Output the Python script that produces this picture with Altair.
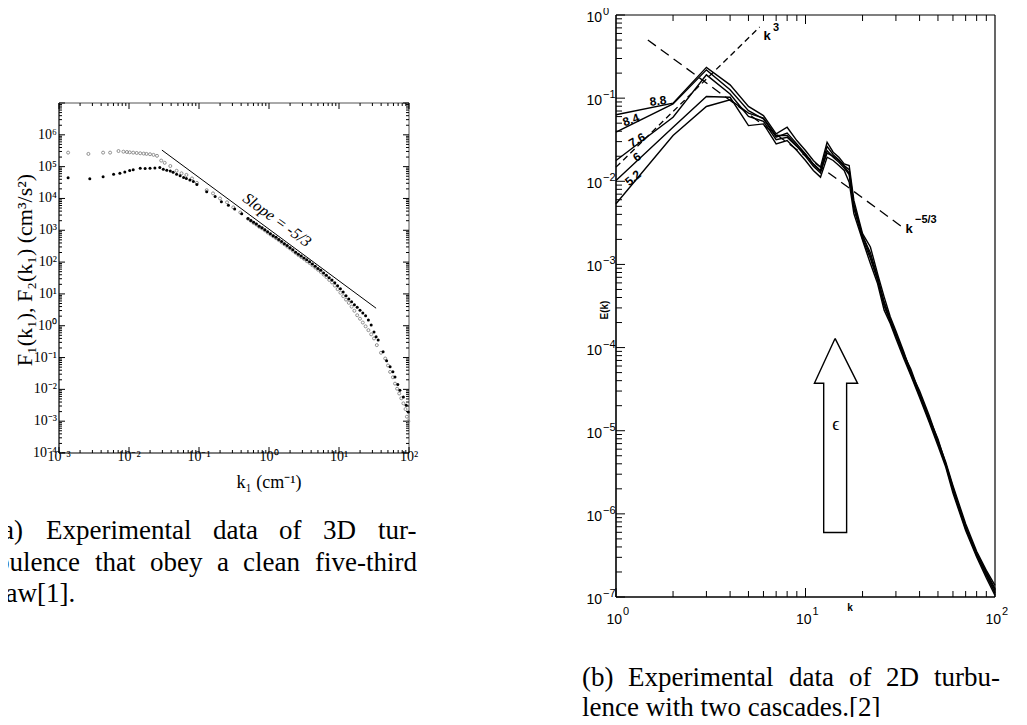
import altair as alt
import pandas as pd

# ---------------- panel (a): 3D turbulence spectra (log10 values) ----------------
open_logk = [-2.87, -2.58, -2.37, -2.27, -2.15, -2.08, -2.03, -1.99, -1.94, -1.89, -1.84, -1.79, -1.75,
             -1.70, -1.65, -1.60, -1.54, -1.49, -1.41, -1.32, -1.25, -1.18, -1.10, -1.03, -0.89, -0.80,
             -0.70, -0.60, -0.51, -0.41,
             -0.30, -0.26, -0.22, -0.18, -0.14, -0.10, -0.06, -0.02, 0.02, 0.06, 0.10, 0.14, 0.18, 0.22,
             0.26, 0.30, 0.34, 0.38, 0.42, 0.46, 0.50, 0.54, 0.58, 0.62, 0.66, 0.70, 0.74, 0.78, 0.82,
             0.86, 0.90, 0.94, 0.98, 1.02, 1.06, 1.10, 1.14, 1.18, 1.22, 1.26, 1.30, 1.34, 1.38, 1.42,
             1.46, 1.50,
             1.54, 1.60, 1.66, 1.70, 1.73, 1.77, 1.80, 1.83, 1.86, 1.89, 1.92, 1.95, 1.97, 1.99]
open_logF = [5.44, 5.40, 5.44, 5.44, 5.49, 5.47, 5.46, 5.45, 5.44, 5.43, 5.42, 5.41, 5.40,
             5.39, 5.37, 5.34, 5.19, 5.12, 5.02, 4.87, 4.79, 4.74, 4.63, 4.49, 4.26, 4.16,
             4.00, 3.88, 3.72, 3.56,
             3.36, 3.30, 3.23, 3.18, 3.11, 3.06, 3.00, 2.93, 2.87, 2.81, 2.75, 2.69, 2.62, 2.56,
             2.49, 2.43, 2.36, 2.29, 2.22, 2.16, 2.10, 2.03, 1.97, 1.90, 1.83, 1.76, 1.69, 1.61, 1.53,
             1.44, 1.36, 1.26, 1.15, 1.04, 0.93, 0.82, 0.72, 0.60, 0.47, 0.33, 0.22, 0.10, -0.02, -0.14,
             -0.27, -0.40,
             -0.61, -0.85, -1.03, -1.25, -1.45, -1.62, -1.82, -1.98, -2.13, -2.28, -2.44, -2.62, -2.86, -3.00]

filled_logk = [-2.87, -2.56, -2.37, -2.22, -2.13, -2.06, -1.99, -1.94, -1.84, -1.77, -1.70, -1.63, -1.56,
               -1.51, -1.46, -1.41, -1.37, -1.32, -1.27, -1.22, -1.18, -1.13, -1.08, -1.03, -0.89, -0.77,
               -0.68, -0.58, -0.49, -0.39,
               -0.30, -0.26, -0.22, -0.18, -0.14, -0.10, -0.06, -0.02, 0.02, 0.06, 0.10, 0.14, 0.18, 0.22,
               0.26, 0.30, 0.34, 0.38, 0.42, 0.46, 0.50, 0.54, 0.58, 0.62, 0.66, 0.70, 0.74, 0.78, 0.82,
               0.86, 0.90, 0.94, 0.98, 1.02, 1.06, 1.10, 1.14, 1.18, 1.22, 1.26, 1.30, 1.34, 1.38, 1.42,
               1.46, 1.50,
               1.53, 1.56, 1.63, 1.68, 1.73, 1.77, 1.80, 1.84, 1.87, 1.92, 1.96, 1.99]
filled_logF = [4.65, 4.62, 4.68, 4.76, 4.79, 4.83, 4.88, 4.90, 4.95, 4.94, 4.95, 4.96, 4.97,
               4.92, 4.89, 4.86, 4.82, 4.76, 4.71, 4.66, 4.63, 4.58, 4.53, 4.44, 4.21, 4.06,
               3.90, 3.79, 3.67, 3.52,
               3.37, 3.31, 3.25, 3.20, 3.13, 3.08, 3.02, 2.95, 2.89, 2.83, 2.78, 2.71, 2.65, 2.58,
               2.52, 2.45, 2.39, 2.31, 2.25, 2.19, 2.13, 2.07, 2.01, 1.94, 1.87, 1.80, 1.74, 1.66, 1.59,
               1.51, 1.44, 1.35, 1.26, 1.16, 1.06, 0.94, 0.84, 0.75, 0.66, 0.58, 0.49, 0.40, 0.31, 0.18,
               0.02, -0.20,
               -0.35, -0.45, -0.82, -1.10, -1.29, -1.45, -1.61, -1.85, -2.03, -2.24, -2.50, -2.71]

slope_logk = [-1.53, 1.53]
slope_logF = [5.52, 0.55]

a_xticks = [0.001, 0.01, 0.1, 1, 10, 100]
a_xlabels = ["10⁻³", "10⁻²", "10⁻¹", "10⁰", "10¹", "10²"]
a_yticks = [1e-4, 1e-3, 1e-2, 1e-1, 1, 10, 100, 1e3, 1e4, 1e5, 1e6]
a_ylabels = ["10⁻⁴", "10⁻³", "10⁻²", "10⁻¹", "10⁰", "10¹", "10²", "10³", "10⁴", "10⁵", "10⁶"]

# ---------------- panel (b): 2D turbulence spectra (log10 E) ----------------
k_b = [1, 2, 3, 4, 5, 6, 7, 8, 9, 10, 11, 12, 13, 14, 15, 16, 17, 18, 20, 22, 24, 26, 28, 30, 33, 36,
       40, 45, 50, 55, 60, 70, 80, 90, 100]
run_88 = [-1.20, -1.06, -0.63, -0.84, -1.10, -1.21, -1.43, -1.35, -1.51, -1.63, -1.75, -1.83, -1.53, -1.65,
          -1.71, -1.79, -1.81, -2.23, -2.63, -2.79, -3.11, -3.39, -3.63, -3.80, -4.05, -4.30, -4.52, -4.82,
          -5.12, -5.38, -5.66, -6.12, -6.45, -6.68, -6.86]
run_84 = [-1.41, -1.07, -0.66, -0.90, -1.15, -1.25, -1.47, -1.42, -1.55, -1.67, -1.79, -1.87, -1.58, -1.68,
          -1.74, -1.81, -1.86, -2.28, -2.66, -2.86, -3.15, -3.45, -3.66, -3.83, -4.08, -4.26, -4.55, -4.85,
          -5.10, -5.40, -5.70, -6.15, -6.48, -6.70, -6.90]
run_76 = [-1.75, -1.23, -0.72, -0.95, -1.22, -1.28, -1.50, -1.47, -1.58, -1.70, -1.82, -1.90, -1.63, -1.71,
          -1.77, -1.84, -1.92, -2.33, -2.69, -2.93, -3.19, -3.50, -3.69, -3.86, -4.10, -4.32, -4.58, -4.88,
          -5.15, -5.42, -5.72, -6.18, -6.50, -6.74, -6.95]
run_60 = [-1.99, -1.35, -0.98, -0.99, -1.33, -1.31, -1.55, -1.51, -1.63, -1.75, -1.87, -1.95, -1.71, -1.75,
          -1.81, -1.87, -2.01, -2.39, -2.71, -2.99, -3.23, -3.55, -3.71, -3.89, -4.13, -4.34, -4.60, -4.90,
          -5.18, -5.44, -5.75, -6.20, -6.52, -6.77, -6.98]
run_52 = [-2.27, -1.45, -1.10, -1.02, -1.18, -1.24, -1.45, -1.45, -1.57, -1.68, -1.80, -1.88, -1.66, -1.70,
          -1.75, -1.82, -1.90, -2.30, -2.65, -2.90, -3.17, -3.47, -3.67, -3.84, -4.07, -4.29, -4.56, -4.86,
          -5.14, -5.40, -5.68, -6.16, -6.47, -6.72, -6.92]
run_names = ["8.8", "8.4", "7.6", "6", "5.2"]

k3_logk = [0.0, 0.758]
k3_logE = [-1.83, -0.145]
k53_logk = [0.168, 1.51]
k53_logE = [-0.30, -2.55]

arrow_logk = [1.156, 1.275, 1.217, 1.217, 1.096, 1.096, 1.047, 1.156]
arrow_logE = [-3.89, -4.43, -4.43, -6.225, -6.225, -4.43, -4.43, -3.89]

b_xticks = [1, 10, 100]
b_xexp = ["0", "1", "2"]
b_yticks = [1e-7, 1e-6, 1e-5, 1e-4, 1e-3, 1e-2, 1e-1, 1]
b_yexp = ["−7", "−6", "−5", "−4", "−3", "−2", "−1", "0"]

# ---------------- helpers ----------------
ONE = pd.DataFrame({"_": [0]})
SERIF = "Liberation Serif"
SANS = "Liberation Sans"


def p10(vals):
    return [10 ** v for v in vals]


def txt(s, x, y, **kw):
    return alt.Chart(ONE).mark_text(text=s, **kw).encode(x=alt.value(x), y=alt.value(y))


def frame(xs, ys, xd, yd, sides, width=1.0, color="black"):
    rows = []
    if "b" in sides:
        rows.append(dict(x=xd[0], x2=xd[1], y=yd[0], y2=yd[0]))
    if "t" in sides:
        rows.append(dict(x=xd[0], x2=xd[1], y=yd[1], y2=yd[1]))
    if "l" in sides:
        rows.append(dict(x=xd[0], x2=xd[0], y=yd[0], y2=yd[1]))
    if "r" in sides:
        rows.append(dict(x=xd[1], x2=xd[1], y=yd[0], y2=yd[1]))
    return alt.Chart(pd.DataFrame(rows)).mark_rule(color=color, strokeWidth=width).encode(
        x=alt.X("x:Q", scale=xs, axis=None), x2="x2:Q",
        y=alt.Y("y:Q", scale=ys, axis=None), y2="y2:Q")


def vticks(vals, edge, xs, ys, size, off):
    df = pd.DataFrame({"v": vals, "e": [edge] * len(vals)})
    return alt.Chart(df).mark_tick(orient="vertical", size=size, thickness=1, color="black",
                                   opacity=1, yOffset=off).encode(
        x=alt.X("v:Q", scale=xs, axis=None), y=alt.Y("e:Q", scale=ys, axis=None))


def hticks(vals, edge, xs, ys, size, off):
    df = pd.DataFrame({"v": vals, "e": [edge] * len(vals)})
    return alt.Chart(df).mark_tick(orient="horizontal", size=size, thickness=1, color="black",
                                   opacity=1, xOffset=off).encode(
        y=alt.Y("v:Q", scale=ys, axis=None), x=alt.X("e:Q", scale=xs, axis=None))


# ---------------- panel (a) ----------------
AX = alt.Scale(type="log", domain=[1e-3, 1e2], range=[51, 401], nice=False)
AY = alt.Scale(type="log", domain=[1e-4, 1e7], range=[445, 95], nice=False)

ax_minor = [m * 10.0 ** e for e in range(-3, 2) for m in range(2, 10)]
ay_major = [10.0 ** e for e in range(-4, 8)]
ay_minor = [m * 10.0 ** e for e in range(-4, 7) for m in range(2, 10)]

open_df = pd.DataFrame({"k": p10(open_logk), "F": p10(open_logF)})
filled_df = pd.DataFrame({"k": p10(filled_logk), "F": p10(filled_logF)})
slope_df = pd.DataFrame({"k": p10(slope_logk), "F": p10(slope_logF)})

a_open = alt.Chart(open_df).mark_point(shape="circle", filled=False, size=9, strokeWidth=0.8,
                                       color="#777777", opacity=1).encode(
    x=alt.X("k:Q", scale=AX, axis=None), y=alt.Y("F:Q", scale=AY, axis=None))
a_filled = alt.Chart(filled_df).mark_circle(size=9, color="black", opacity=1).encode(
    x=alt.X("k:Q", scale=AX, axis=None), y=alt.Y("F:Q", scale=AY, axis=None))
a_slope = alt.Chart(slope_df).mark_line(color="black", strokeWidth=1).encode(
    x=alt.X("k:Q", scale=AX, axis=None), y=alt.Y("F:Q", scale=AY, axis=None))

a_xlab = alt.Chart(pd.DataFrame({"v": a_xticks, "t": a_xlabels})).mark_text(
    font=SERIF, fontSize=14, baseline="alphabetic", align="center", color="black").encode(
    x=alt.X("v:Q", scale=AX, axis=None), y=alt.value(453), text="t:N")
a_ylab = alt.Chart(pd.DataFrame({"v": a_yticks, "t": a_ylabels})).mark_text(
    font=SERIF, fontSize=14, baseline="middle", align="right", color="black").encode(
    y=alt.Y("v:Q", scale=AY, axis=None), x=alt.value(49), text="t:N")

panel_a = alt.layer(
    frame(AX, AY, [1e-3, 1e2], [1e-4, 1e7], "bl", 1.2),
    frame(AX, AY, [1e-3, 1e2], [1e-4, 1e7], "tr", 1.0, "#555555"),
    vticks(a_xticks, 1e-4, AX, AY, 6, -3), vticks(ax_minor, 1e-4, AX, AY, 3, -1.5),
    vticks(a_xticks, 1e7, AX, AY, 6, 3), vticks(ax_minor, 1e7, AX, AY, 3, 1.5),
    hticks(ay_major, 1e-3, AX, AY, 6, 3), hticks(ay_minor, 1e-3, AX, AY, 3, 1.5),
    hticks(ay_major, 1e2, AX, AY, 6, -3), hticks(ay_minor, 1e2, AX, AY, 3, -1.5),
    a_open, a_filled, a_slope, a_xlab, a_ylab,
)

# ---------------- panel (b) ----------------
BX = alt.Scale(type="log", domain=[1, 100], range=[608, 987], nice=False)
BY = alt.Scale(type="log", domain=[1e-7, 1], range=[589, 7], nice=False)

bx_minor = [m * 10.0 ** e for e in range(0, 2) for m in range(2, 10)]
by_minor = [m * 10.0 ** e for e in range(-7, 0) for m in range(2, 10)]

runs = []
for name, vals in zip(run_names, [run_88, run_84, run_76, run_60, run_52]):
    for k, v in zip(k_b, vals):
        runs.append({"k": k, "E": 10 ** v, "run": name})
runs_df = pd.DataFrame(runs)

b_lines = alt.Chart(runs_df).mark_line(color="black", strokeWidth=1.4).encode(
    x=alt.X("k:Q", scale=BX, axis=None), y=alt.Y("E:Q", scale=BY, axis=None), detail="run:N")
b_k3 = alt.Chart(pd.DataFrame({"k": p10(k3_logk), "E": p10(k3_logE)})).mark_line(
    color="black", strokeWidth=1.3, strokeDash=[6, 4]).encode(
    x=alt.X("k:Q", scale=BX, axis=None), y=alt.Y("E:Q", scale=BY, axis=None))
b_k53 = alt.Chart(pd.DataFrame({"k": p10(k53_logk), "E": p10(k53_logE)})).mark_line(
    color="black", strokeWidth=1.3, strokeDash=[10, 6]).encode(
    x=alt.X("k:Q", scale=BX, axis=None), y=alt.Y("E:Q", scale=BY, axis=None))
b_arrow = alt.Chart(pd.DataFrame({"k": p10(arrow_logk), "E": p10(arrow_logE),
                                  "o": list(range(len(arrow_logk)))})).mark_line(
    color="black", strokeWidth=1.4).encode(
    x=alt.X("k:Q", scale=BX, axis=None), y=alt.Y("E:Q", scale=BY, axis=None), order="o:Q")

bx_df = pd.DataFrame({"v": b_xticks, "base": ["10"] * len(b_xticks), "e": b_xexp})
by_df = pd.DataFrame({"v": b_yticks, "base": ["10"] * len(b_yticks), "e": b_yexp})
b_xlab_base = alt.Chart(bx_df).mark_text(font=SANS, fontSize=14, baseline="middle", align="right",
                                         dx=6, color="black").encode(
    x=alt.X("v:Q", scale=BX, axis=None), y=alt.value(612), text="base:N")
b_xlab_exp = alt.Chart(bx_df).mark_text(font=SANS, fontSize=11, baseline="middle", align="left",
                                        dx=7, color="black").encode(
    x=alt.X("v:Q", scale=BX, axis=None), y=alt.value(604), text="e:N")
b_ylab_base = alt.Chart(by_df).mark_text(font=SANS, fontSize=14, baseline="middle", align="right",
                                         dy=3, color="black").encode(
    y=alt.Y("v:Q", scale=BY, axis=None), x=alt.value(594), text="base:N")
b_ylab_exp = alt.Chart(by_df).mark_text(font=SANS, fontSize=11, baseline="middle", align="left",
                                        dy=-3, color="black").encode(
    y=alt.Y("v:Q", scale=BY, axis=None), x=alt.value(595), text="e:N")

panel_b = alt.layer(
    frame(BX, BY, [1, 100], [1e-7, 1], "bl", 1.6),
    frame(BX, BY, [1, 100], [1e-7, 1], "tr", 1.2),
    vticks(b_xticks, 1e-7, BX, BY, 9, -4.5), vticks(bx_minor, 1e-7, BX, BY, 6, -3),
    vticks([10], 1, BX, BY, 9, 4.5), vticks(bx_minor, 1, BX, BY, 6, 3),
    hticks(b_yticks, 1, BX, BY, 9, 4.5), hticks(by_minor, 1, BX, BY, 6, 3),
    b_lines, b_k3, b_k53, b_arrow, b_xlab_base, b_xlab_exp, b_ylab_base, b_ylab_exp,
)

# ---------------- annotations (pixel placed text) ----------------
notes = [
    txt("F₁(k₁),  F₂(k₁)  (cm³/s²)", 17, 262, font=SERIF, fontSize=22, angle=270,
        align="center", baseline="middle"),
    txt("k₁ (cm⁻¹)", 261, 475, font=SERIF, fontSize=18, align="center", baseline="middle"),
    txt("Slope = -5/3", 269, 212, font=SERIF, fontSize=16, fontStyle="italic", angle=36,
        align="center", baseline="middle"),
    txt("k", 842, 600, font=SANS, fontSize=10, fontWeight="bold", align="center", baseline="middle"),
    txt("E(k)", 597, 302, font=SANS, fontSize=10, fontWeight="bold", angle=270,
        align="center", baseline="middle"),
    txt("k", 759, 28, font=SANS, fontSize=13, fontWeight="bold", align="center", baseline="middle"),
    txt("3", 765, 20, font=SANS, fontSize=11, fontWeight="bold", align="left", baseline="middle"),
    txt("k", 901, 221, font=SANS, fontSize=13, fontWeight="bold", align="center", baseline="middle"),
    txt("−5/3", 907, 212, font=SANS, fontSize=11, fontWeight="bold", align="left", baseline="middle"),
    txt("8.8", 650, 93, font=SANS, fontSize=12, fontWeight="bold", angle=352, align="center",
        baseline="middle"),
    txt("8.4", 623, 112, font=SANS, fontSize=12, fontWeight="bold", angle=340, align="center",
        baseline="middle"),
    txt("7.6", 629, 132, font=SANS, fontSize=12, fontWeight="bold", angle=330, align="center",
        baseline="middle"),
    txt("6", 629, 149, font=SANS, fontSize=12, fontWeight="bold", angle=325, align="center",
        baseline="middle"),
    txt("5.2", 625, 170, font=SANS, fontSize=12, fontWeight="bold", angle=320, align="center",
        baseline="middle"),
    txt("ϵ", 828, 417, font=SERIF, fontSize=18, align="center", baseline="middle"),
]

# caption words (justified lines are laid out word by word)
cap_words = ["(a)", "Experimental", "data", "of", "3D", "tur-",
             "bulence", "that", "obey", "a", "clean", "five-third",
             "law[1].",
             "(b)", "Experimental", "data", "of", "2D", "turbu-",
             "lence with two cascades.[2]"]
cap_x = [-15, 38, 205, 271, 315, 370,
         -12, 87, 142, 209, 235, 307,
         -10,
         574, 620, 781, 841, 878, 926,
         574]
cap_y = [523] * 6 + [555] * 6 + [586] + [670] * 6 + [700]
captions = alt.Chart(pd.DataFrame({"w": cap_words, "x": cap_x, "y": cap_y})).mark_text(
    font=SERIF, fontSize=27, align="left", baseline="middle", color="black").encode(
    x=alt.X("x:Q", scale=None, axis=None), y=alt.Y("y:Q", scale=None, axis=None), text="w:N")

chart = alt.layer(panel_a, panel_b, captions, *notes).resolve_scale(
    x="independent", y="independent").properties(
    width=1011, height=709, autosize=alt.AutoSizeParams(type="none"), padding=0
).configure_view(strokeWidth=0)

chart.save("out.html", embed_options={"renderer": "svg", "actions": False})
